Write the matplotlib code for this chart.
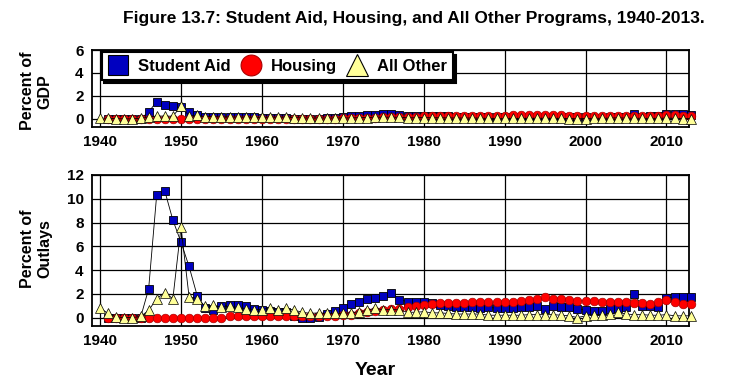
import matplotlib
matplotlib.use('Agg')
import matplotlib.pyplot as plt
from matplotlib.lines import Line2D

plt.rcParams['font.family'] = ['Liberation Sans', 'DejaVu Sans']
plt.rcParams['font.weight'] = 'bold'

# years: "All Other" starts 1940, the other two start 1941
years = list(range(1940, 2014))
aid_years = list(range(1941, 2014))

# percent of outlays
aid_outlays = [0, 0, 0, 0, 0, 2.4, 10.35, 10.65, 8.2, 6.35,
               4.3, 1.85, 0.8, 0.6, 1.0, 1.05, 1.1, 0.95, 0.75, 0.6,
               0.55, 0.5, 0.45, 0.1, 0.0, 0.0, 0.05, 0.3, 0.55, 0.8,
               1.15, 1.3, 1.6, 1.65, 1.85, 2.1, 1.5, 1.35, 1.3, 1.3,
               1.25, 1.05, 0.95, 0.9, 0.9, 0.85, 0.8, 0.85, 0.8, 0.8,
               0.8, 0.85, 0.85, 0.95, 0.7, 0.95, 0.9, 0.85, 0.75, 0.65,
               0.55, 0.55, 0.7, 0.8, 0.85, 1.95, 1.0, 1.0, 0.9, 1.65,
               1.75, 1.75, 1.7]
housing_outlays = [0, 0, 0, 0, 0, 0, 0, 0, 0, 0,
                   0, 0, 0, 0, 0, 0.1, 0.12, 0.12, 0.12, 0.12,
                   0.12, 0.15, 0.12, 0.12, 0.1, 0.1, 0.1, 0.1, 0.15, 0.2,
                   0.2, 0.4, 0.5, 0.55, 0.65, 0.7, 0.75, 0.9, 1.0, 1.1,
                   1.15, 1.2, 1.25, 1.25, 1.25, 1.3, 1.3, 1.3, 1.3, 1.3,
                   1.35, 1.4, 1.45, 1.55, 1.7, 1.6, 1.55, 1.5, 1.4, 1.4,
                   1.4, 1.35, 1.35, 1.35, 1.3, 1.25, 1.25, 1.15, 1.3, 1.45,
                   1.35, 1.15, 1.15]
other_outlays = [0.8, 0.35, 0.05, 0.0, 0.0, 0.1, 0.6, 1.6, 2.1, 1.6,
                 7.6, 1.75, 1.6, 0.95, 1.05, 0.87, 0.96, 0.85, 0.76, 0.68,
                 0.68, 0.82, 0.68, 0.8, 0.62, 0.45, 0.35, 0.4, 0.35, 0.35,
                 0.35, 0.4, 0.5, 0.6, 0.8, 0.65, 0.68, 0.65, 0.45, 0.45,
                 0.5, 0.4, 0.4, 0.35, 0.3, 0.3, 0.3, 0.3, 0.2, 0.2,
                 0.2, 0.2, 0.2, 0.25, 0.25, 0.25, 0.25, 0.2, 0.15, 0.0,
                 0.15, 0.25, 0.25, 0.3, 0.45, 0.3, 0.25, 0.25, 0.2, 0.2,
                 0.25, 0.15, 0.15, 0.15]

# percent of GDP (upper panel)
aid_gdp = [0, 0, 0, 0, 0, 0.6, 1.5, 1.25, 1.15, 1.0,
           0.6, 0.35, 0.15, 0.12, 0.17, 0.17, 0.19, 0.17, 0.14, 0.11,
           0.1, 0.09, 0.08, 0.02, 0.0, 0.0, 0.01, 0.06, 0.11, 0.15,
           0.22, 0.25, 0.3, 0.31, 0.39, 0.45, 0.31, 0.28, 0.26, 0.28,
           0.28, 0.24, 0.22, 0.2, 0.2, 0.19, 0.17, 0.18, 0.17, 0.18,
           0.18, 0.19, 0.18, 0.2, 0.14, 0.19, 0.18, 0.16, 0.14, 0.12,
           0.1, 0.11, 0.14, 0.16, 0.17, 0.39, 0.2, 0.21, 0.23, 0.4,
           0.42, 0.39, 0.35]
housing_gdp = [0, 0, 0, 0, 0, 0, 0, 0, 0, 0,
               0, 0, 0, 0, 0, 0.02, 0.02, 0.02, 0.02, 0.02,
               0.02, 0.03, 0.02, 0.02, 0.02, 0.02, 0.02, 0.02, 0.03, 0.04,
               0.04, 0.08, 0.09, 0.1, 0.14, 0.15, 0.16, 0.19, 0.2, 0.24,
               0.26, 0.28, 0.29, 0.28, 0.28, 0.29, 0.28, 0.28, 0.28, 0.28,
               0.3, 0.31, 0.31, 0.33, 0.35, 0.32, 0.3, 0.29, 0.26, 0.25,
               0.25, 0.26, 0.27, 0.26, 0.26, 0.25, 0.24, 0.24, 0.29, 0.35,
               0.32, 0.25, 0.24]
other_gdp = [0.08, 0.04, 0.01, 0.0, 0.0, 0.04, 0.15, 0.24, 0.24, 0.23,
             1.1, 0.25, 0.31, 0.18, 0.19, 0.15, 0.16, 0.14, 0.14, 0.13,
             0.12, 0.15, 0.13, 0.15, 0.11, 0.08, 0.06, 0.08, 0.07, 0.07,
             0.07, 0.08, 0.1, 0.11, 0.15, 0.14, 0.15, 0.13, 0.09, 0.09,
             0.11, 0.09, 0.09, 0.08, 0.07, 0.07, 0.07, 0.06, 0.04, 0.04,
             0.04, 0.04, 0.04, 0.05, 0.05, 0.05, 0.05, 0.04, 0.03, 0.0,
             0.03, 0.05, 0.05, 0.06, 0.09, 0.06, 0.05, 0.05, 0.04, 0.05,
             0.06, 0.04, 0.03, 0.03]

labels = ['Student Aid', 'Housing', 'All Other']
blue = '#0000c0'
red = '#ff0000'
yellow = '#ffff99'


def draw(ax, aid, housing, other):
    ax.plot(aid_years, aid, color='black', lw=0.6, marker='s', ms=5.8,
            mfc=blue, mec='black', mew=0.6, clip_on=False, zorder=3)
    ax.plot(aid_years, housing, color='black', lw=0.6, marker='o', ms=6.2,
            mfc=red, mec='#aa0000', mew=0.5, clip_on=False, zorder=4)
    ax.plot(years, other, color='black', lw=0.6, marker='^', ms=6.5,
            mfc=yellow, mec='black', mew=0.5, clip_on=False, zorder=5)
    ax.set_xlim(1939, 2012.8)
    ax.set_xticks(range(1940, 2011, 10))
    ax.grid(True, color='black', lw=0.9)
    ax.tick_params(length=0, labelsize=11, pad=6)
    for s in ax.spines.values():
        s.set_linewidth(1.3)


fig = plt.figure(figsize=(7.3, 3.88), dpi=100)
ax1 = fig.add_axes([0.126, 0.673, 0.818, 0.198])
ax2 = fig.add_axes([0.126, 0.160, 0.818, 0.389])

draw(ax1, aid_gdp, housing_gdp, other_gdp)
ax1.set_ylim(-0.7, 6)
ax1.set_yticks([0, 2, 4, 6])

draw(ax2, aid_outlays, housing_outlays, other_outlays)
ax2.set_ylim(-0.7, 12)
ax2.set_yticks(range(0, 13, 2))

handles = [
    Line2D([], [], ls='', marker='s', ms=15, mfc=blue, mec='black', mew=0.8),
    Line2D([], [], ls='', marker='o', ms=15, mfc=red, mec='#aa0000', mew=0.8),
    Line2D([], [], ls='', marker='^', ms=16, mfc=yellow, mec='black', mew=0.8),
]
leg = ax1.legend(handles, labels, ncol=3, loc='upper left',
                 bbox_to_anchor=(0.016, 0.97), borderaxespad=0,
                 prop={'weight': 'bold', 'size': 12}, fancybox=False,
                 edgecolor='black', framealpha=1, handlelength=1.25,
                 handletextpad=0.55, columnspacing=0.6, borderpad=0.38,
                 shadow={'color': 'black', 'alpha': 1, 'ox': 2, 'oy': -2})
leg.get_frame().set_linewidth(1.5)
leg.set_zorder(10)

fig.text(0.567, 0.952, 'Figure 13.7: Student Aid, Housing, and All Other Programs, 1940-2013.',
         ha='center', va='center', fontsize=12.5, weight='bold')
fig.text(0.05, 0.765, 'Percent of\nGDP', rotation=90, ha='center', va='center',
         multialignment='center', fontsize=11.5, weight='bold')
fig.text(0.05, 0.36, 'Percent of\nOutlays', rotation=90, ha='center', va='center',
         multialignment='center', fontsize=11.5, weight='bold')
fig.text(0.514, 0.045, 'Year', ha='center', va='center', fontsize=14, weight='bold')

fig.savefig('out.png', dpi=100)
